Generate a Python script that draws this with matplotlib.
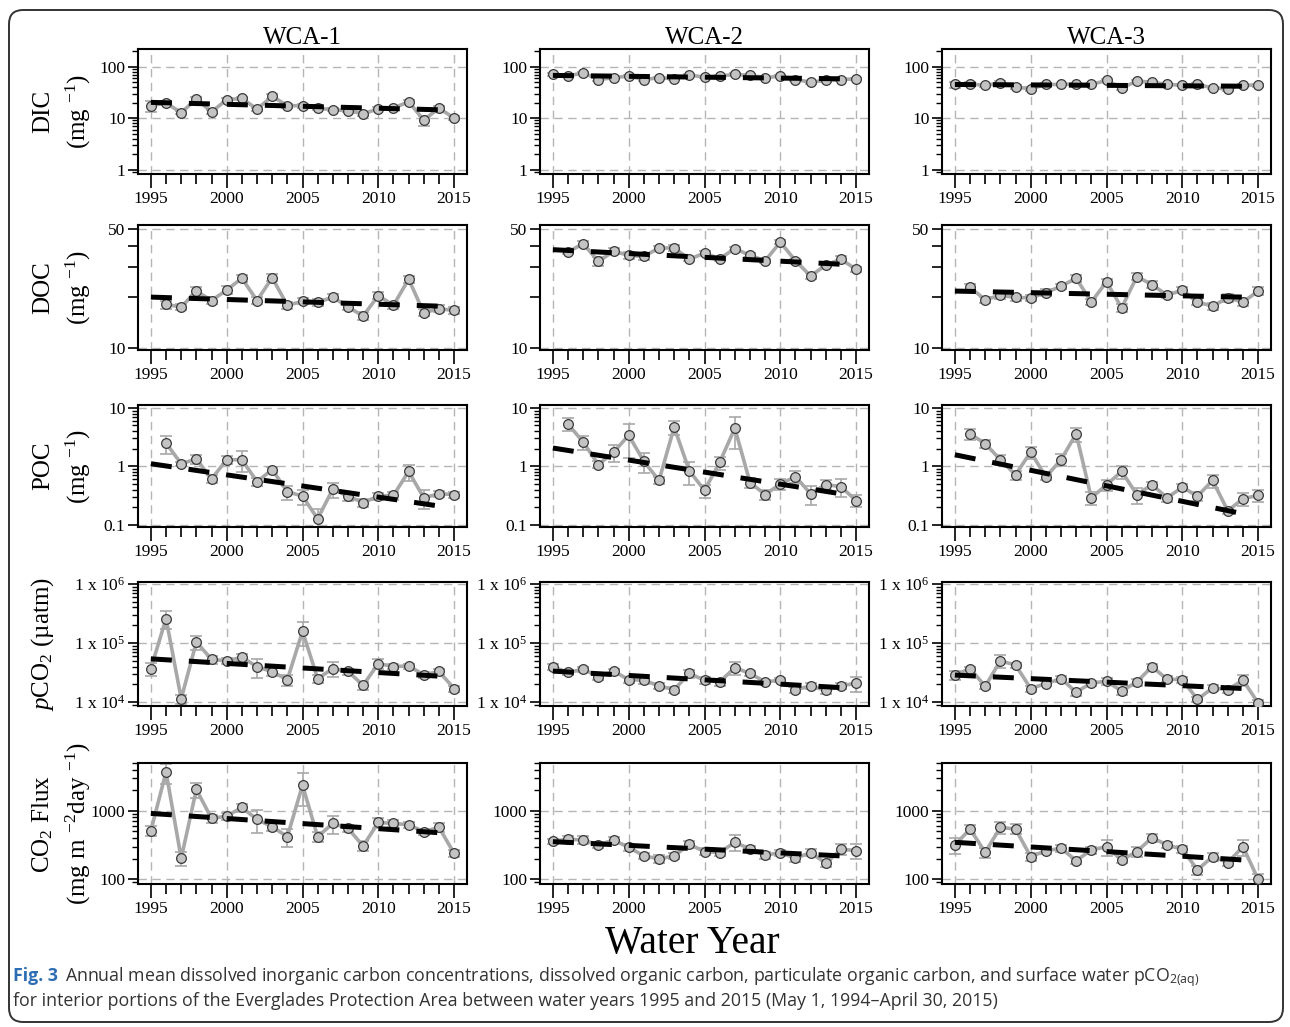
import matplotlib
matplotlib.use('Agg')
import matplotlib.pyplot as plt
import numpy as np
from matplotlib.patches import FancyBboxPatch
from matplotlib.transforms import IdentityTransform
from matplotlib.ticker import FixedLocator, FixedFormatter, NullFormatter, LogLocator

plt.rcParams['font.family'] = 'Liberation Serif'
plt.rcParams['mathtext.fontset'] = 'custom'
plt.rcParams['mathtext.rm'] = 'Liberation Serif'
plt.rcParams['mathtext.it'] = 'Liberation Serif:italic'

nan = np.nan
years = list(range(1995, 2016))
trend_years = [1995, 2014]
areas = ['WCA-1', 'WCA-2', 'WCA-3']

# DIC (mg/L)
dic_wca1 = [17.4, 19.6, 12.8, 23.5, 13.2, 22.8, 24.2, 14.9, 26.5, 17.4, 17.4, 15.6, 14.5, 14.0, 12.1, 15.2, 15.6, 20.8, 9.1, 15.6, 10.0]
dic_wca1_se = [4.5, 1.5, 1.0, 2.5, 1.0, 2.0, 2.0, 1.0, 3.0, 1.5, 1.5, 1.0, 1.0, 1.0, 1.0, 1.0, 1.0, 1.5, 2.0, 1.5, 1.0]
dic_wca2 = [70.7, 65.5, 76, 56, 61, 65.5, 56, 61, 58, 68.5, 62.6, 65.5, 70.7, 67.5, 61, 65.5, 56, 50, 54, 56, 58]
dic_wca2_se = [4, 3, 3, 4, 3, 3, 4, 3, 3, 3, 3, 3, 3, 6, 3, 3, 3, 3, 3, 3, 3]
dic_wca3 = [45, 46.3, 43, 48.5, 40.5, 37, 45, 45, 46, 45, 53.9, 38.6, 52, 50, 45, 43.6, 45, 38.6, 37, 43.6, 43.6]
dic_wca3_se = [6, 3, 2, 4, 3, 3, 3, 2, 3, 3, 3, 3, 3, 3, 3, 2, 3, 2, 3, 3, 3]

# DOC (mg/L)
doc_wca1 = [nan, 18.0, 17.4, 21.6, 19.0, 21.9, 25.7, 19.0, 25.9, 17.8, 18.8, 18.5, 19.9, 17.4, 15.4, 20.3, 17.8, 25.4, 16.1, 17.0, 16.6]
doc_wca1_se = [nan, 1.0, 0.8, 1.2, 1.0, 1.2, 1.2, 0.8, 1.3, 0.8, 0.8, 0.8, 0.8, 0.8, 0.8, 1.0, 0.8, 1.2, 0.8, 0.8, 0.8]
doc_wca2 = [nan, 36.7, 41.2, 32.3, 37.1, 35.1, 34.6, 38.8, 38.8, 33.3, 36.2, 33.5, 38.5, 35.1, 32.6, 42.0, 32.6, 26.5, 30.8, 33.3, 29.0]
doc_wca2_se = [nan, 1.2, 1.2, 1.8, 1.5, 1.5, 1.5, 1.0, 1.5, 1.0, 1.0, 1.0, 1.0, 1.0, 1.0, 1.2, 1.0, 1.0, 1.0, 1.5, 1.0]
doc_wca3 = [nan, 22.7, 19.2, 20.4, 19.8, 19.7, 21.1, 23.1, 25.7, 18.6, 24.5, 17.2, 26.3, 23.6, 20.4, 21.9, 18.6, 17.6, 19.7, 18.6, 21.6]
doc_wca3_se = [nan, 1.0, 0.8, 1.0, 0.8, 0.8, 1.0, 0.8, 1.2, 0.8, 1.0, 1.0, 1.2, 1.0, 0.8, 1.0, 0.8, 0.8, 1.0, 1.0, 1.2]

# POC (mg/L)
poc_wca1 = [nan, 2.5, 1.11, 1.34, 0.61, 1.3, 1.3, 0.55, 0.88, 0.37, 0.31, 0.127, 0.41, 0.31, 0.24, 0.31, 0.32, 0.82, 0.29, 0.34, 0.33]
poc_wca1_se = [nan, 0.85, 0.1, 0.25, 0.1, 0.2, 0.5, 0.08, 0.1, 0.1, 0.09, 0.06, 0.12, 0.05, 0.04, 0.04, 0.05, 0.25, 0.1, 0.04, 0.04]
poc_wca2 = [nan, 5.3, 2.6, 1.07, 1.74, 3.4, 1.22, 0.575, 4.67, 0.84, 0.39, 1.17, 4.5, 0.53, 0.33, 0.5, 0.67, 0.34, 0.49, 0.45, 0.26]
poc_wca2_se = [nan, 1.3, 0.7, 0.15, 0.55, 2.0, 0.45, 0.08, 1.2, 0.35, 0.1, 0.3, 2.5, 0.1, 0.06, 0.1, 0.15, 0.12, 0.1, 0.15, 0.06]
poc_wca3 = [nan, 3.6, 2.45, 1.3, 0.72, 1.76, 0.66, 1.3, 3.6, 0.29, 0.485, 0.82, 0.33, 0.485, 0.29, 0.44, 0.31, 0.575, 0.174, 0.28, 0.32]
poc_wca3_se = [nan, 0.8, 0.4, 0.25, 0.13, 0.4, 0.08, 0.3, 1.0, 0.07, 0.1, 0.2, 0.1, 0.06, 0.04, 0.06, 0.05, 0.15, 0.02, 0.07, 0.07]

# pCO2 (uatm)
pco2_wca1 = [3.7e4, 2.6e5, 1.14e4, 1.04e5, 5.3e4, 4.98e4, 5.75e4, 3.98e4, 3.27e4, 2.4e4, 1.58e5, 2.5e4, 3.7e4, 3.3e4, 1.93e4, 4.5e4, 4.0e4, 4.1e4, 2.9e4, 3.3e4, 1.7e4]
pco2_wca1_se = [0.9e4, 0.9e5, 0.2e4, 0.27e5, 0.8e4, 0.5e4, 0.8e4, 1.4e4, 0.5e4, 0.5e4, 0.7e5, 0.4e4, 1.0e4, 0.4e4, 0.3e4, 0.8e4, 0.4e4, 0.4e4, 0.3e4, 0.4e4, 0.2e4]
pco2_wca2 = [3.98e4, 3.18e4, 3.6e4, 2.7e4, 3.35e4, 2.4e4, 2.35e4, 1.88e4, 1.63e4, 3.06e4, 2.35e4, 2.2e4, 3.83e4, 3.06e4, 2.2e4, 2.35e4, 1.63e4, 1.88e4, 1.58e4, 1.88e4, 2.1e4]
pco2_wca2_se = [0.5e4, 0.3e4, 0.4e4, 0.3e4, 0.3e4, 0.3e4, 0.3e4, 0.2e4, 0.2e4, 0.5e4, 0.3e4, 0.3e4, 1.0e4, 0.3e4, 0.2e4, 0.2e4, 0.2e4, 0.2e4, 0.2e4, 0.2e4, 0.6e4]
pco2_wca3 = [2.87e4, 3.7e4, 1.86e4, 4.98e4, 4.25e4, 1.7e4, 2.06e4, 2.5e4, 1.48e4, 2.1e4, 2.26e4, 1.54e4, 2.2e4, 3.98e4, 2.45e4, 2.4e4, 1.11e4, 1.74e4, 1.63e4, 2.35e4, 0.97e4]
pco2_wca3_se = [0.5e4, 0.3e4, 0.2e4, 1.2e4, 0.4e4, 0.2e4, 0.2e4, 0.3e4, 0.2e4, 0.2e4, 0.3e4, 0.2e4, 0.3e4, 0.5e4, 0.3e4, 0.3e4, 0.1e4, 0.2e4, 0.2e4, 0.5e4, 0.1e4]

# CO2 flux (mg m-2 day-1)
flux_wca1 = [512, 3700, 202, 2050, 773, 836, 1118, 748, 585, 418, 2370, 418, 654, 553, 306, 676, 654, 625, 495, 572, 239]
flux_wca1_se = [90, 1200, 45, 500, 100, 100, 150, 270, 80, 120, 1200, 70, 190, 60, 50, 120, 80, 60, 50, 80, 30]
flux_wca2 = [362, 383, 374, 316, 374, 292, 219, 198, 219, 324, 253, 245, 346, 277, 224, 245, 202, 245, 171, 274, 262]
flux_wca2_se = [30, 40, 50, 30, 40, 30, 25, 25, 25, 40, 30, 30, 90, 30, 25, 25, 25, 30, 20, 50, 65]
flux_wca3 = [316, 541, 247, 572, 541, 214, 261, 283, 187, 267, 299, 191, 253, 405, 316, 274, 137, 214, 175, 299, 100]
flux_wca3_se = [80, 80, 40, 110, 90, 30, 30, 30, 20, 30, 80, 20, 40, 60, 30, 30, 20, 30, 20, 80, 20]

# trend line values at 1995 and 2014
dic_trend = [[20.2, 14.5], [67.5, 58], [45, 41.7]]
doc_trend = [[19.9, 17.6], [37.9, 31.1], [21.6, 19.9]]
poc_trend = [[1.11, 0.21], [2.06, 0.34], [1.58, 0.155]]
pco2_trend = [[5.4e4, 2.75e4], [3.35e4, 1.76e4], [2.87e4, 1.7e4]]
flux_trend = [[915, 478], [354, 219], [346, 191]]

rows = [
    dict(vals=[dic_wca1, dic_wca2, dic_wca3], se=[dic_wca1_se, dic_wca2_se, dic_wca3_se], trend=dic_trend,
         ylim=(0.82, 220), major=[1, 10, 100], labels=['1', '10', '100'], minor=None,
         lab1='DIC', lab2=r'(mg $^{-1}$)'),
    dict(vals=[doc_wca1, doc_wca2, doc_wca3], se=[doc_wca1_se, doc_wca2_se, doc_wca3_se], trend=doc_trend,
         ylim=(9.7, 53), major=[10, 50], labels=['10', '50'], minor=[20, 30, 40],
         lab1='DOC', lab2=r'(mg $^{-1}$)'),
    dict(vals=[poc_wca1, poc_wca2, poc_wca3], se=[poc_wca1_se, poc_wca2_se, poc_wca3_se], trend=poc_trend,
         ylim=(0.092, 11.2), major=[0.1, 1, 10], labels=['0.1', '1', '10'], minor=None,
         lab1='POC', lab2=r'(mg $^{-1}$)'),
    dict(vals=[pco2_wca1, pco2_wca2, pco2_wca3], se=[pco2_wca1_se, pco2_wca2_se, pco2_wca3_se], trend=pco2_trend,
         ylim=(8.6e3, 1.08e6), major=[1e4, 1e5, 1e6],
         labels=[r'1 x 10$^{4}$', r'1 x 10$^{5}$', r'1 x 10$^{6}$'], minor=None,
         lab1=r'$\mathit{p}$CO$_2$ (µatm)', lab2=None),
    dict(vals=[flux_wca1, flux_wca2, flux_wca3], se=[flux_wca1_se, flux_wca2_se, flux_wca3_se], trend=flux_trend,
         ylim=(85, 5000), major=[100, 1000], labels=['100', '1000'], minor=None,
         lab1=r'CO$_2$ Flux', lab2=r'(mg m $^{-2}$day $^{-1}$)'),
]

W, H = 1290, 1027
fig = plt.figure(figsize=(W / 100, H / 100), dpi=100)

col_left = [138, 540, 942]
col_w = 329
row_top = [49, 225, 405, 582, 763]
row_h = [125, 125, 122, 124, 121]

for r, row in enumerate(rows):
    for c in range(3):
        ax = fig.add_axes([col_left[c] / W, 1 - (row_top[r] + row_h[r]) / H, col_w / W, row_h[r] / H])
        ax.set_yscale('log')
        ax.set_xlim(1994.15, 2015.85)
        ax.set_ylim(*row['ylim'])
        v = np.array(row['vals'][c], dtype=float)
        e = np.array(row['se'][c], dtype=float)
        ax.errorbar(years, v, yerr=e, fmt='none', ecolor='#a8a8a8', elinewidth=1.2,
                    capsize=4.5, capthick=1.2, zorder=2)
        ax.plot(years, v, color='#a8a8a8', lw=2.6, zorder=3)
        ax.plot(years, v, 'o', ms=7, mfc='#c3c3c3', mec='#3a3a3a', mew=0.9, zorder=4)
        ax.plot(trend_years, row['trend'][c], color='black', lw=3.6, dashes=(4.2, 3.4),
                solid_capstyle='butt', zorder=5)

        ax.xaxis.set_major_locator(FixedLocator([1995, 2000, 2005, 2010, 2015]))
        ax.xaxis.set_minor_locator(FixedLocator(years))
        ax.yaxis.set_major_locator(FixedLocator(row['major']))
        ax.yaxis.set_major_formatter(FixedFormatter(row['labels']))
        if row['minor'] is not None:
            ax.yaxis.set_minor_locator(FixedLocator(row['minor']))
            ax.tick_params(axis='y', which='minor', length=7, width=1.2)
        else:
            ax.yaxis.set_minor_locator(LogLocator(base=10, subs=np.arange(2, 10)))
            ax.tick_params(axis='y', which='minor', length=4, width=1.0)
        ax.yaxis.set_minor_formatter(NullFormatter())
        ax.tick_params(axis='y', which='major', length=7, width=1.2, labelsize=12.5, pad=2)
        ax.tick_params(axis='x', which='major', length=10, width=1.2, labelsize=12.5, pad=2)
        ax.tick_params(axis='x', which='minor', length=7, width=1.2)
        for lab in ax.get_xticklabels() + ax.get_yticklabels():
            lab.set_family('Liberation Serif')
        ax.grid(True, which='major', color='#b5b5b5', lw=1.0, dashes=(6, 4))
        ax.set_axisbelow(True)
        for s in ax.spines.values():
            s.set_linewidth(1.5)

        if r == 0:
            ax.set_title(areas[c], fontsize=18, pad=3)
        if c == 0:
            yc = 1 - (row_top[r] + row_h[r] / 2) / H
            fig.text(43 / W, yc, row['lab1'], rotation=90, fontsize=18, ha='center', va='center')
            if row['lab2'] is not None:
                fig.text(78 / W, yc, row['lab2'], rotation=90, fontsize=18, ha='center', va='center')

fig.text(692 / W, 1 - 953 / H, 'Water Year', fontsize=28.5, ha='center', va='baseline')

# rounded frame
frame = FancyBboxPatch((9, H - 1022), 1274, 1012, boxstyle='round,pad=0,rounding_size=14',
                       transform=IdentityTransform(), fill=False, ec='#333333', lw=1.4)
fig.add_artist(frame)

# caption
cap_font = 'Open Sans'
cap_size = 12.8
t1 = fig.text(13 / W, 1 - 981 / H, 'Fig. 3', fontsize=cap_size, fontweight='bold', color='#2c6db3',
              family=cap_font, va='baseline')
fig.canvas.draw()
bb = t1.get_window_extent()
fig.text((bb.x1 + 7) / W, 1 - 981 / H,
         'Annual mean dissolved inorganic carbon concentrations, dissolved organic carbon, '
         'particulate organic carbon, and surface water pCO$_\\mathregular{2(aq)}$',
         fontsize=cap_size, color='#333333', family=cap_font, va='baseline')
fig.text(13 / W, 1 - 1006 / H,
         'for interior portions of the Everglades Protection Area between water years 1995 and 2015 '
         '(May 1, 1994–April 30, 2015)',
         fontsize=cap_size, color='#333333', family=cap_font, va='baseline')

fig.savefig('out.png', dpi=100)
